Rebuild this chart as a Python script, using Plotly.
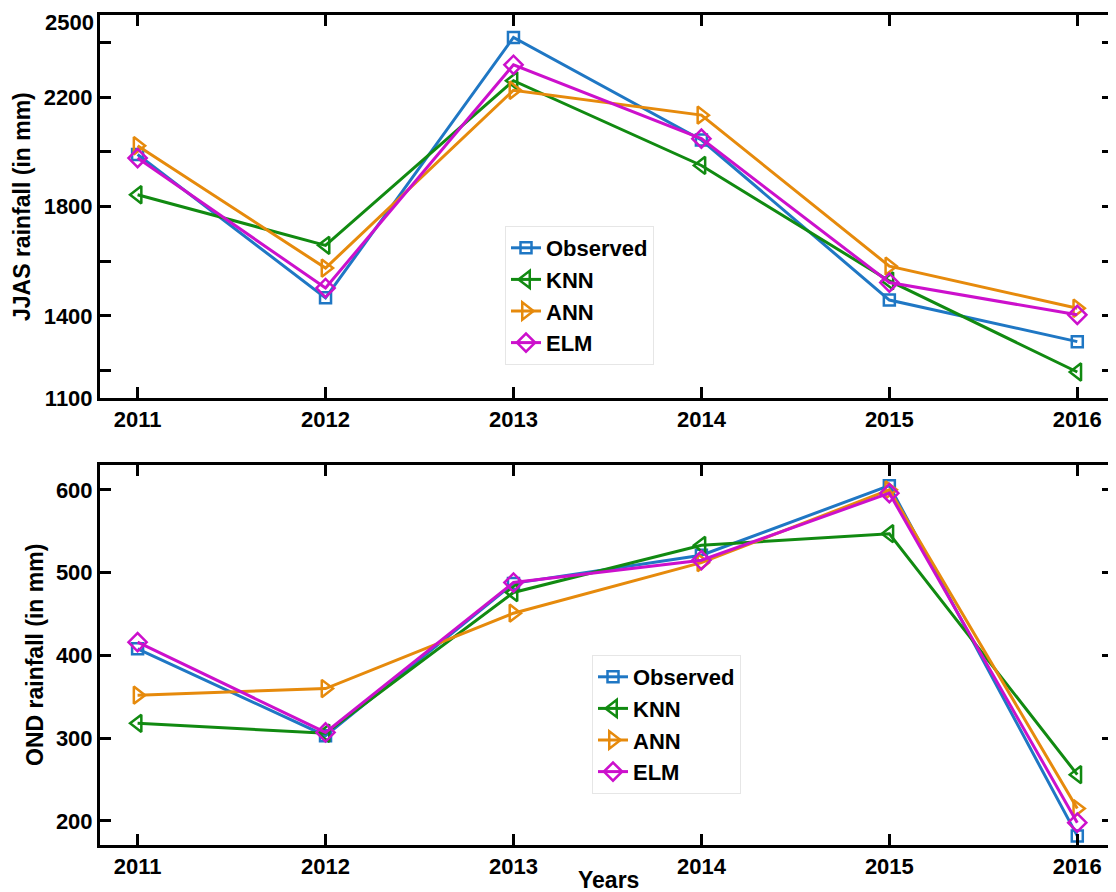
import plotly.graph_objects as go
from plotly.subplots import make_subplots

years = [2011, 2012, 2013, 2014, 2015, 2016]

jjas_observed = [1990, 1466, 2418, 2043, 1458, 1306]
jjas_knn = [1843, 1658, 2260, 1950, 1528, 1195]
jjas_ann = [2022, 1575, 2225, 2134, 1582, 1428]
jjas_elm = [1977, 1502, 2318, 2048, 1522, 1404]

ond_observed = [408, 303, 487, 521, 605, 182]
ond_knn = [318, 306, 476, 533, 547, 256]
ond_ann = [352, 360, 451, 512, 600, 215]
ond_elm = [416, 307, 488, 515, 596, 198]

series_names = ["Observed", "KNN", "ANN", "ELM"]
colors = ["#1f77c4", "#118a11", "#e68a0c", "#cc10cc"]
symbols = ["square-open", "triangle-left-open", "triangle-right-open", "diamond-open"]
msizes = [11, 15, 15, 14]

jjas_tickvals = [1100, 1200, 1400, 1600, 1800, 2000, 2200, 2400, 2500]
jjas_ticktext = ["1100", "", "1400", "", "1800", "", "2200", "", ""]
jjas_top_label = "2500"
ond_tickvals = [200, 300, 400, 500, 600]

FONT = "Liberation Sans, Arial, sans-serif"

# page body has an 8px margin; work in screenshot pixels and compensate
OFF = 8
W, H = 1116 - OFF, 892 - OFF
L, T = 100 - OFF, 15 - OFF
R = W - (1113 - OFF)
B = H - (845 - OFF)
PW, PH = W - L - R, H - T - B


def px_x(px):
    return (px - OFF - L) / PW


def px_y(py):
    return (H - B - (py - OFF)) / PH


fig = make_subplots(rows=2, cols=1, vertical_spacing=0.08)
fig.update_layout(
    width=W, height=H,
    margin=dict(l=L, r=R, t=T, b=B),
    paper_bgcolor="white", plot_bgcolor="white",
    font=dict(family=FONT, color="black", size=18),
)
fig.update_yaxes(domain=[px_y(398), 1.0], row=1, col=1)
fig.update_yaxes(domain=[0.0, px_y(465)], row=2, col=1)

top = [jjas_observed, jjas_knn, jjas_ann, jjas_elm]
bot = [ond_observed, ond_knn, ond_ann, ond_elm]

for r, data, lg in [(1, top, "legend"), (2, bot, "legend2")]:
    for name, vals, c, s, ms in zip(series_names, data, colors, symbols, msizes):
        fig.add_trace(go.Scatter(
            x=years, y=vals, name=name, mode="lines+markers",
            line=dict(color=c, width=3),
            marker=dict(symbol=s, size=ms, color=c, line=dict(color=c, width=2.5)),
            legend=lg,
        ), row=r, col=1)

tick_font = dict(family=FONT, size=22, color="black", weight="bold")
axis_common = dict(
    showline=True, linecolor="black", linewidth=3, mirror="ticks",
    ticks="inside", ticklen=11, tickwidth=2.5, tickcolor="black",
    showgrid=False, zeroline=False, automargin=False,
    ticklabeloverflow="allow",
    tickfont=tick_font,
)

for r in (1, 2):
    fig.update_xaxes(range=[2010.8, 2016.19], tickvals=years,
                     ticktext=[str(y) for y in years], **axis_common, row=r, col=1)

fig.update_yaxes(range=[1100, 2500], tickvals=jjas_tickvals, ticktext=jjas_ticktext,
                 **axis_common, row=1, col=1)
fig.update_yaxes(range=[171, 630], tickvals=ond_tickvals,
                 **axis_common, row=2, col=1)

# top tick label of the JJAS axis, kept fully inside the page
fig.add_annotation(text=jjas_top_label, xref="paper", yref="paper",
                   x=px_x(95), y=px_y(9), showarrow=False, borderpad=0,
                   xanchor="right", yanchor="top", font=tick_font)

title_font = dict(family=FONT, size=23, color="black", weight="bold")
fig.add_annotation(text="JJAS rainfall (in mm)", xref="paper", yref="paper",
                   x=px_x(22), y=px_y(207), textangle=-90, showarrow=False,
                   xanchor="center", yanchor="middle", font=title_font)
fig.add_annotation(text="OND rainfall (in mm)", xref="paper", yref="paper",
                   x=px_x(35), y=px_y(655), textangle=-90, showarrow=False,
                   xanchor="center", yanchor="middle", font=title_font)
fig.add_annotation(text="Years", xref="paper", yref="paper",
                   x=px_x(608), y=px_y(880), showarrow=False,
                   xanchor="center", yanchor="middle", font=title_font)

leg_common = dict(
    bgcolor="white", bordercolor="#e6e6e6", borderwidth=1,
    font=dict(family=FONT, size=22, color="black", weight="bold"),
    xanchor="left", yanchor="top", tracegroupgap=0,
)
fig.update_layout(
    legend=dict(x=px_x(505), y=px_y(226), **leg_common),
    legend2=dict(x=px_x(592), y=px_y(655), **leg_common),
)

fig.write_html("out.html")
